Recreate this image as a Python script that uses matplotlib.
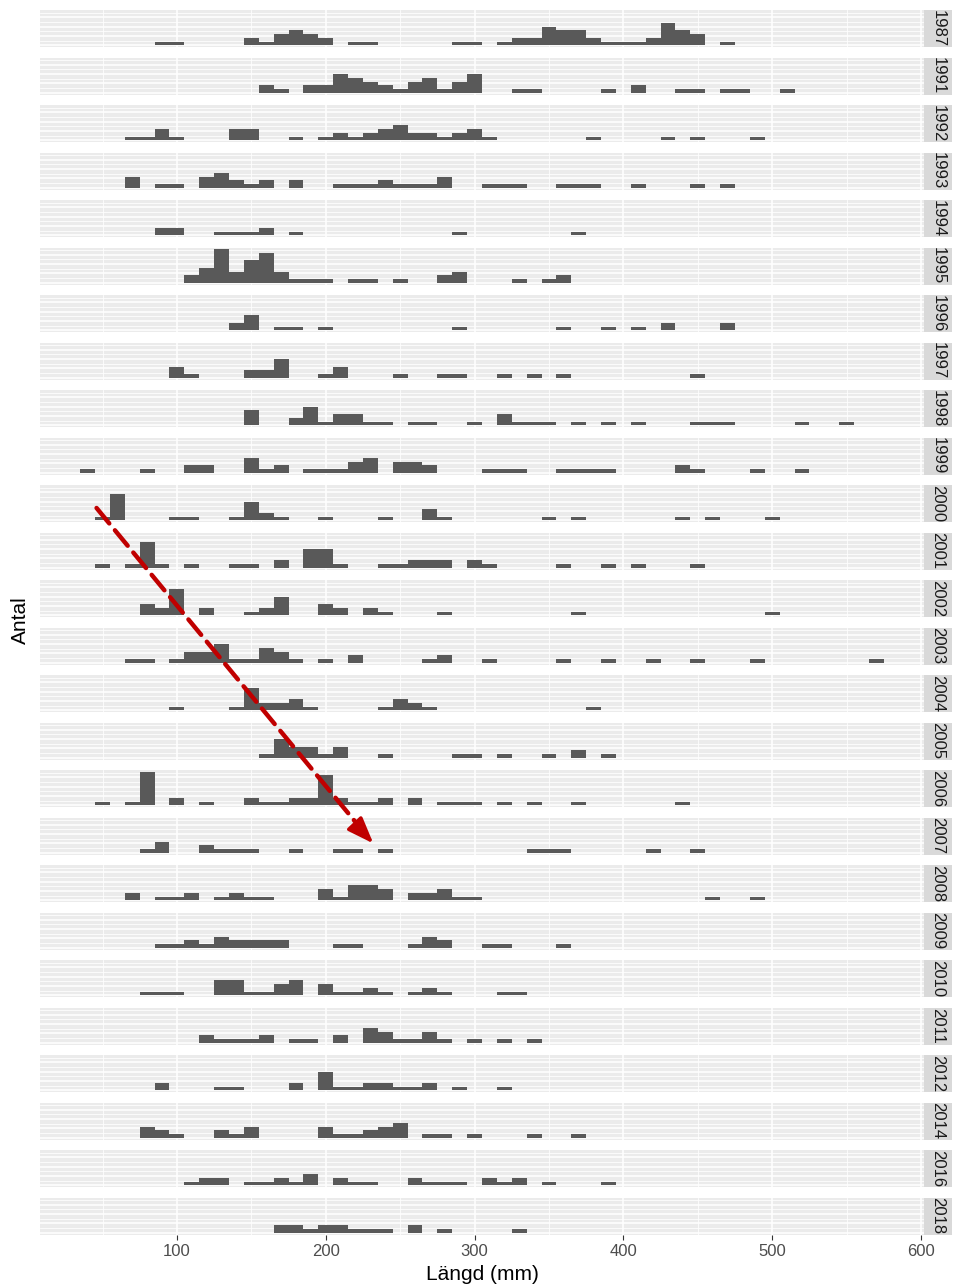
import matplotlib
matplotlib.use("Agg")
import matplotlib.pyplot as plt
from matplotlib.patches import ConnectionPatch

plt.rcParams['font.family'] = ['Liberation Sans', 'DejaVu Sans']

# counts per 10 mm length class (key = class centre, mm)
n1987 = {90: 1, 100: 1, 150: 2, 160: 1, 170: 3, 180: 4, 190: 3, 200: 2, 220: 1, 230: 1,
         290: 1, 300: 1, 320: 1, 330: 2, 340: 2, 350: 5, 360: 4, 370: 4, 380: 2, 390: 1,
         400: 1, 410: 1, 420: 2, 430: 6, 440: 4, 450: 3, 470: 1}
n1991 = {160: 2, 170: 1, 190: 2, 200: 2, 210: 5, 220: 4, 230: 3, 240: 2, 250: 1, 260: 3,
         270: 4, 280: 1, 290: 3, 300: 5, 330: 1, 340: 1, 390: 1, 410: 2, 440: 1, 450: 1,
         470: 1, 480: 1, 510: 1}
n1992 = {70: 1, 80: 1, 90: 3, 100: 1, 140: 3, 150: 3, 180: 1, 200: 1, 210: 2, 220: 1,
         230: 2, 240: 3, 250: 4, 260: 2, 270: 2, 280: 1, 290: 2, 300: 3, 310: 1, 380: 1,
         430: 1, 450: 1, 490: 1}
n1993 = {70: 3, 90: 1, 100: 1, 120: 3, 130: 4, 140: 2, 150: 1, 160: 2, 180: 2, 210: 1,
         220: 1, 230: 1, 240: 2, 250: 1, 260: 1, 270: 1, 280: 3, 310: 1, 320: 1, 330: 1,
         360: 1, 370: 1, 380: 1, 410: 1, 450: 1, 470: 1}
n1994 = {90: 2, 100: 2, 130: 1, 140: 1, 150: 1, 160: 2, 180: 1, 290: 1, 370: 1}
n1995 = {110: 2, 120: 4, 130: 9, 140: 3, 150: 6, 160: 8, 170: 3, 180: 1, 190: 1, 200: 1,
         220: 1, 230: 1, 250: 1, 280: 2, 290: 3, 330: 1, 350: 1, 360: 2}
n1996 = {140: 2, 150: 4, 170: 1, 180: 1, 200: 1, 290: 1, 360: 1, 390: 1, 410: 1, 430: 2,
         470: 2}
n1997 = {100: 3, 110: 1, 150: 2, 160: 2, 170: 5, 200: 1, 210: 3, 250: 1, 280: 1, 290: 1,
         320: 1, 340: 1, 360: 1, 450: 1}
n1998 = {150: 4, 180: 2, 190: 5, 200: 1, 210: 3, 220: 3, 230: 1, 240: 1, 260: 1, 270: 1,
         300: 1, 320: 3, 330: 1, 340: 1, 350: 1, 370: 1, 390: 1, 410: 1, 450: 1, 460: 1,
         470: 1, 520: 1, 550: 1}
n1999 = {40: 1, 80: 1, 110: 2, 120: 2, 150: 4, 160: 1, 170: 2, 190: 1, 200: 1, 210: 1,
         220: 3, 230: 4, 250: 3, 260: 3, 270: 2, 310: 1, 320: 1, 330: 1, 360: 1, 370: 1,
         380: 1, 390: 1, 440: 2, 450: 1, 490: 1, 520: 1}
n2000 = {50: 1, 60: 7, 100: 1, 110: 1, 140: 1, 150: 5, 160: 2, 170: 1, 200: 1, 240: 1,
         270: 3, 280: 1, 350: 1, 370: 1, 440: 1, 460: 1, 500: 1}
n2001 = {50: 1, 70: 1, 80: 7, 90: 1, 110: 1, 140: 1, 150: 1, 170: 2, 190: 5, 200: 5,
         210: 1, 240: 1, 250: 1, 260: 2, 270: 2, 280: 2, 300: 2, 310: 1, 360: 1, 390: 1,
         410: 1, 450: 1}
n2002 = {80: 3, 90: 2, 100: 7, 120: 2, 150: 1, 160: 2, 170: 5, 200: 3, 210: 2, 230: 2,
         240: 1, 280: 1, 370: 1, 500: 1}
n2003 = {70: 1, 80: 1, 100: 1, 110: 3, 120: 3, 130: 5, 140: 1, 150: 1, 160: 4, 170: 3,
         180: 1, 200: 1, 220: 2, 270: 1, 280: 2, 310: 1, 360: 1, 390: 1, 420: 1, 450: 1,
         490: 1, 570: 1}
n2004 = {100: 1, 140: 1, 150: 6, 160: 2, 170: 2, 180: 3, 190: 1, 240: 1, 250: 3, 260: 2,
         270: 1, 380: 1}
n2005 = {160: 1, 170: 5, 180: 3, 190: 3, 200: 1, 210: 3, 240: 1, 290: 1, 300: 1, 320: 1,
         350: 1, 370: 2, 390: 1}
n2006 = {50: 1, 70: 1, 80: 9, 100: 2, 120: 1, 150: 2, 160: 1, 170: 1, 180: 2, 190: 2,
         200: 8, 210: 2, 220: 1, 230: 1, 240: 2, 260: 2, 280: 1, 290: 1, 300: 1, 320: 1,
         340: 1, 370: 1, 440: 1}
n2007 = {80: 1, 90: 3, 120: 2, 130: 1, 140: 1, 150: 1, 180: 1, 210: 1, 220: 1, 240: 1,
         340: 1, 350: 1, 360: 1, 420: 1, 450: 1}
n2008 = {70: 2, 90: 1, 100: 1, 110: 2, 130: 1, 140: 2, 150: 1, 160: 1, 200: 3, 210: 1,
         220: 4, 230: 4, 240: 3, 260: 2, 270: 2, 280: 3, 290: 1, 300: 1, 460: 1, 490: 1}
n2009 = {90: 1, 100: 1, 110: 2, 120: 1, 130: 3, 140: 2, 150: 2, 160: 2, 170: 2, 210: 1,
         220: 1, 260: 1, 270: 3, 280: 2, 310: 1, 320: 1, 360: 1}
n2010 = {80: 1, 90: 1, 100: 1, 130: 4, 140: 4, 150: 1, 160: 1, 170: 3, 180: 4, 200: 3,
         210: 1, 220: 1, 230: 2, 240: 1, 260: 1, 270: 2, 280: 1, 320: 1, 330: 1}
n2011 = {120: 2, 130: 1, 140: 1, 150: 1, 160: 2, 180: 1, 190: 1, 210: 2, 230: 4, 240: 3,
         250: 1, 260: 1, 270: 3, 280: 1, 300: 1, 320: 1, 340: 1}
n2012 = {90: 2, 130: 1, 140: 1, 180: 2, 200: 5, 210: 1, 220: 1, 230: 2, 240: 2, 250: 1,
         260: 1, 270: 2, 290: 1, 320: 1}
n2014 = {80: 3, 90: 2, 100: 1, 130: 2, 140: 1, 150: 3, 200: 3, 210: 1, 220: 1, 230: 2,
         240: 3, 250: 4, 270: 1, 280: 1, 300: 1, 340: 1, 370: 1}
n2016 = {110: 1, 120: 2, 130: 2, 150: 1, 160: 1, 170: 2, 180: 1, 190: 3, 210: 2, 220: 1,
         230: 1, 260: 2, 270: 1, 280: 1, 290: 1, 310: 2, 320: 1, 330: 2, 350: 1, 390: 1}
n2018 = {170: 2, 180: 2, 190: 1, 200: 2, 210: 2, 220: 1, 230: 1, 240: 1, 260: 2, 280: 1,
         330: 1}

years = ["1987", "1991", "1992", "1993", "1994", "1995", "1996", "1997", "1998", "1999",
         "2000", "2001", "2002", "2003", "2004", "2005", "2006", "2007", "2008", "2009",
         "2010", "2011", "2012", "2014", "2016", "2018"]
counts = [n1987, n1991, n1992, n1993, n1994, n1995, n1996, n1997, n1998, n1999,
          n2000, n2001, n2002, n2003, n2004, n2005, n2006, n2007, n2008, n2009,
          n2010, n2011, n2012, n2014, n2016, n2018]

xticks = [100, 200, 300, 400, 500, 600]

W, H = 955, 1286
fig = plt.figure(figsize=(W / 100, H / 100), dpi=100)

left, right, strip_r = 40, 924, 952
top0, ph, gap = 10, 37, 10.5

axes = {}
for i, (yr, d) in enumerate(zip(years, counts)):
    t = top0 + i * (ph + gap)
    ax = fig.add_axes([left / W, 1 - (t + ph) / H, (right - left) / W, ph / H])
    ax.set_facecolor("#EBEBEB")
    for v in range(50, 600, 100):
        ax.axvline(v, color="white", lw=0.55, zorder=0)
    for v in xticks:
        ax.axvline(v, color="white", lw=1.1, zorder=0)
    for v in [1.25, 3.75, 6.25, 8.75]:
        ax.axhline(v, color="white", lw=0.55, zorder=0)
    for v in [0, 2.5, 5, 7.5]:
        ax.axhline(v, color="white", lw=1.1, zorder=0)
    ax.bar(list(d.keys()), list(d.values()), width=10, color="#595959", lw=0, zorder=2)
    ax.set_xlim(8, 602)
    ax.set_ylim(-0.45, 9.45)
    ax.set_yticks([])
    for s in ax.spines.values():
        s.set_visible(False)
    if i == len(years) - 1:
        ax.set_xticks(xticks)
        ax.tick_params(axis="x", length=3.5, width=0.8, color="#333333",
                       labelcolor="#4D4D4D", labelsize=12, pad=3)
    else:
        ax.set_xticks([])
    axes[yr] = ax

    sx = fig.add_axes([right / W, 1 - (t + ph) / H, (strip_r - right) / W, ph / H])
    sx.set_facecolor("#D9D9D9")
    sx.set_xticks([])
    sx.set_yticks([])
    for s in sx.spines.values():
        s.set_visible(False)
    sx.text(0.5, 0.5, yr, rotation=-90, ha="center", va="center", fontsize=12,
            color="#1A1A1A", transform=sx.transAxes)

fig.text(482 / W, 1 - 1275 / H, "Längd (mm)", ha="center", va="center", fontsize=15,
         color="black")
fig.text(20 / W, 1 - 620 / H, "Antal", ha="center", va="center", rotation=90,
         fontsize=15, color="black")

# trend arrow: dashed shaft + solid head
shaft = ConnectionPatch(xyA=(46, 3.3), coordsA=axes["2000"].transData,
                        xyB=(224, 6.3), coordsB=axes["2007"].transData,
                        arrowstyle="-", linestyle=(0, (4.5, 2)), lw=3.2,
                        color="#C00000", shrinkA=0, shrinkB=0, zorder=10)
fig.add_artist(shaft)
head = ConnectionPatch(xyA=(220, 7.6), coordsA=axes["2007"].transData,
                       xyB=(232, 2.5), coordsB=axes["2007"].transData,
                       arrowstyle="-|>,head_length=0.8,head_width=0.3",
                       mutation_scale=20, lw=2.5, color="#C00000",
                       shrinkA=0, shrinkB=0, zorder=10)
fig.add_artist(head)

fig.savefig("out.png", dpi=100)
